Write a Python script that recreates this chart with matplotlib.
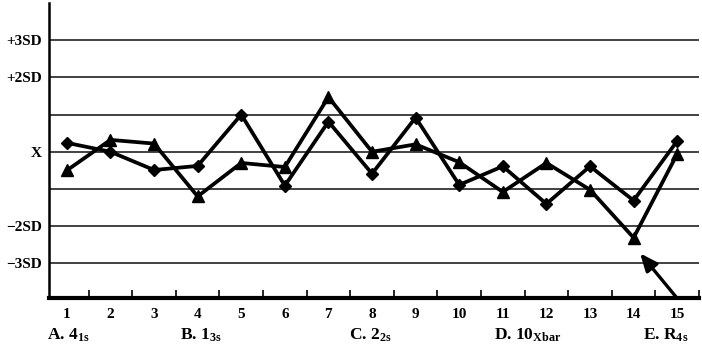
import numpy as np
import matplotlib.pyplot as plt

plt.rcParams['font.family'] = ['Liberation Serif', 'DejaVu Serif']
plt.rcParams['font.weight'] = 'bold'
plt.rcParams['mathtext.fontset'] = 'custom'
plt.rcParams['mathtext.rm'] = 'Liberation Serif:bold'
plt.rcParams['mathtext.it'] = 'Liberation Serif:bold'
plt.rcParams['mathtext.bf'] = 'Liberation Serif:bold'

# run number and the two control series, in SD units
runs = np.arange(1, 16)
diamond_vals = [0.24, 0.0, -0.49, -0.38, 1.0, -0.91, 0.81, -0.59,
                0.92, -0.89, -0.39, -1.40, -0.39, -1.31, 0.29]
triangle_vals = [-0.50, 0.32, 0.22, -1.20, -0.30, -0.41, 1.47, 0.0,
                 0.20, -0.28, -1.08, -0.30, -1.02, -2.31, -0.06]

sd_levels = [3, 2, 1, 0, -1, -2, -3]
sd_labels = ['+3SD', '+2SD', '', 'X', '', '\u22122SD', '\u22123SD']

rule_labels = [r'A. 4$_{\mathrm{1s}}$', r'B. 1$_{\mathrm{3s}}$', r'C. 2$_{\mathrm{2s}}$',
               r'D. 10$_{\mathrm{Xbar}}$', r'E. R$_{\mathrm{4s}}$']
rule_x = [0.54, 3.6, 7.48, 10.8, 14.22]

fig = plt.figure(figsize=(7.02, 3.52), dpi=100)
ax = fig.add_axes([0.0698, 0.1534, 0.9259, 0.8372])

for lvl in sd_levels:
    ax.axhline(lvl, color='#333333', lw=1.3, zorder=1)

ax.plot(runs, diamond_vals, color='black', lw=2.7, marker='D', ms=6.5, zorder=3)
ax.plot(runs, triangle_vals, color='black', lw=2.7, marker='^', ms=8.5, zorder=3)

# arrow pointing at the R4s violation
ax.annotate('', xy=(14.15, -2.73), xytext=(14.98, -3.91),
            arrowprops=dict(arrowstyle='-|>,head_length=0.7,head_width=0.3',
                            color='black', lw=2.4, mutation_scale=15,
                            shrinkA=0, shrinkB=0))

ax.set_xlim(0.59, 15.5)
ax.set_ylim(-3.93, 3.99)

ax.set_yticks(sd_levels)
ax.set_yticklabels(sd_labels, fontsize=11, fontweight='bold')
ax.tick_params(axis='y', length=0, pad=5)

ax.set_xticks(runs)
ax.set_xticklabels([str(r) for r in runs], fontsize=11, fontweight='bold')
ax.set_xticks(np.arange(1.5, 16, 1), minor=True)
ax.tick_params(axis='x', which='major', length=0, pad=7)
ax.tick_params(axis='x', which='minor', direction='in', length=6, width=1.2)

for x, lab in zip(rule_x, rule_labels):
    ax.text(x, -5.06, lab, fontsize=12.5, fontweight='bold', ha='left', va='baseline')

ax.spines['top'].set_visible(False)
ax.spines['right'].set_visible(False)
ax.spines['left'].set_linewidth(1.8)
ax.spines['bottom'].set_linewidth(3)

fig.savefig('out.png', dpi=100)
